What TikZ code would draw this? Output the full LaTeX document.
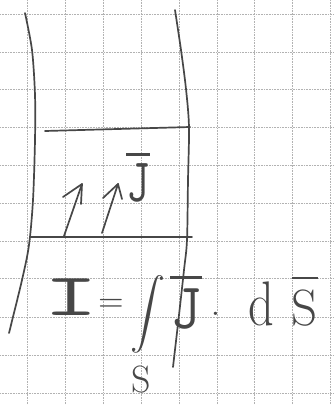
\documentclass[tikz,border=0pt]{standalone}
\usepackage{fontspec}
\begin{document}
\begin{tikzpicture}[x=1pt,y=-1pt,
  gridln/.style={draw=gray!60, line width=0.6pt, dash pattern=on 0.8pt off 0.8pt},
  pen/.style={draw=black!72, line width=1.7pt, line cap=round, line join=round},
  txt/.style={inner sep=0pt, text=black!72}]
\useasboundingbox (0,0) rectangle (334,405);
\fill[white] (0,0) rectangle (334,405);
% grid paper
\foreach \gx in {27,65,103,141,179,217,254,292,330}
  \draw[gridln] (\gx,0) -- (\gx,405);
\foreach \gy in {14,52,89,127,165,203,241,278,317,355,393}
  \draw[gridln] (0,\gy) -- (334,\gy);
% walls of the conductor
\draw[pen] plot[smooth, tension=0.5] coordinates {(25,13) (32,50) (35,95) (35,140) (33,200) (29,245) (22,280) (9,333)};
\draw[pen] plot[smooth, tension=0.5] coordinates {(175,10) (181,50) (186,89) (189,127) (188,180) (187,240) (184,270) (179,315) (173,367)};
% cross-section lines
\coordinate (t1) at (45,131); \coordinate (t2) at (190,127);
\coordinate (b1) at (30,237); \coordinate (b2) at (192,237);
\draw[pen] (t1) -- (t2);
\draw[pen] (b1) -- (b2);
% current density arrows
\coordinate (a1s) at (64,236); \coordinate (a1t) at (82,184);
\coordinate (a1l) at (63,197); \coordinate (a1r) at (81,204);
\draw[pen] (a1s) -- (a1t);
\draw[pen] (a1l) -- (a1t) -- (a1r);
\coordinate (a2s) at (102,233); \coordinate (a2t) at (118,184);
\coordinate (a2l) at (103,198); \coordinate (a2r) at (122,199);
\draw[pen] (a2s) -- (a2t);
\draw[pen] (a2l) -- (a2t) -- (a2r);
% label J in the box
\node[txt, anchor=base, font=\fontsize{62}{62}\selectfont\ttfamily, xscale=0.75] (Jbox) at (138,201) {\vbox{\hrule height 3pt\kern 7pt\hbox{J}}};
% equation
\node[txt, anchor=base, font=\fontsize{60}{60}\selectfont\ttfamily, xscale=1.8] (nI) at (71,315) {I};
\node[txt, scale=3.3] (nEq) at (111,305) {$=$};
\node[txt, scale=3.5] (nInt) at (148,314) {$\displaystyle\int$};
\node[txt, font=\fontsize{38}{38}\selectfont] (nSub) at (141,380) {S};
\node[txt, anchor=base, font=\fontsize{65}{65}\selectfont\ttfamily, xscale=0.95] (nJ) at (186,328) {\vbox{\hrule height 3pt\kern 9pt\hbox{J}}};
\node[txt, font=\fontsize{40}{40}\selectfont] (nDot) at (216,320) {\textperiodcentered};
\node[txt, anchor=base, font=\fontsize{63}{63}\selectfont, xscale=0.8] (nd) at (261,325) {d};
\node[txt, anchor=base, font=\fontsize{51}{51}\selectfont] (nS) at (305,325) {\vbox{\hrule height 2.5pt\kern 10pt\hbox{S}}};
\end{tikzpicture}
\end{document}
